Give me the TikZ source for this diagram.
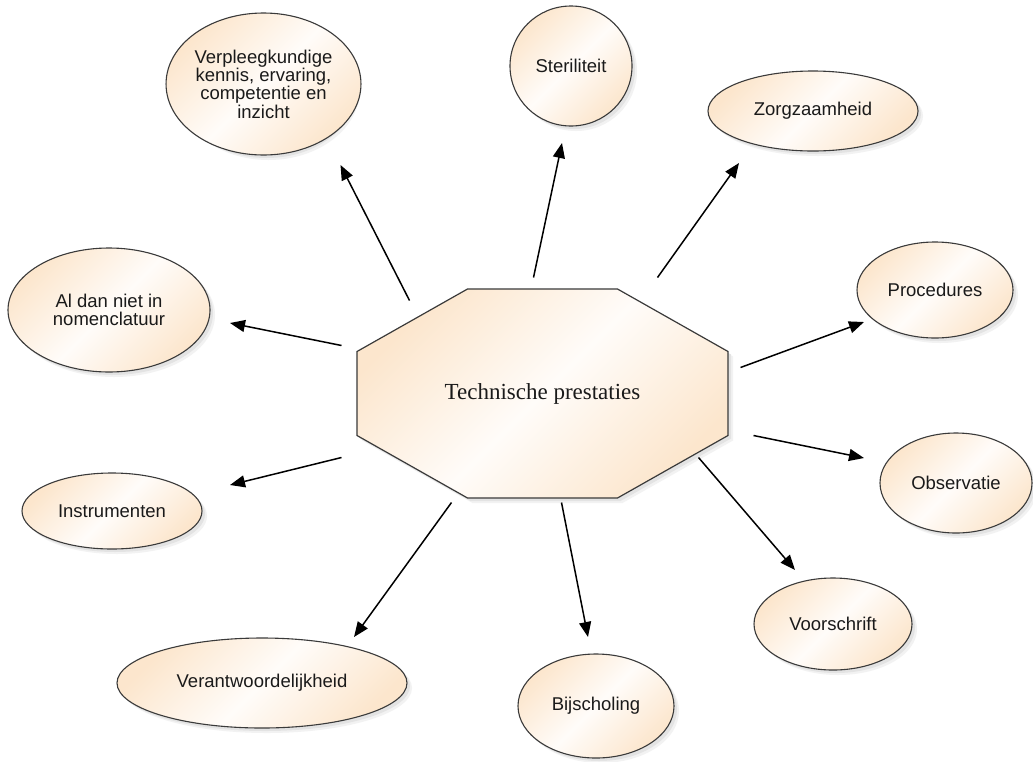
\documentclass[tikz,border=0pt]{standalone}
\usepackage{fontspec}
\setmainfont{Liberation Serif}
\newfontfamily\labelfont{Liberation Sans}
\usetikzlibrary{shapes.geometric,arrows.meta}

\definecolor{peach}{HTML}{FCE6CD}
\definecolor{cream}{HTML}{FFFCF9}
\definecolor{edgegray}{HTML}{3A3A3A}
\definecolor{inkgray}{HTML}{1A1A1A}

\tikzset{
  shadowfar/.style={fill=black!5},
  shadownear/.style={fill=black!11},
  % diagonal peach-cream-peach gradient, clipped to the shape
  peachfill/.style={fill=cream, path picture={
      \shade[top color=peach, bottom color=peach, middle color=cream,
             shading angle=45]
        (path picture bounding box.south west)
        rectangle (path picture bounding box.north east);}},
  topic/.style={ellipse, draw=edgegray, line width=1.1pt, inner sep=0pt,
      align=center, text=inkgray, peachfill,
      font=\labelfont\fontsize{18.5}{18.3}\selectfont},
  blob/.style={ellipse, inner sep=0pt},
  hubbox/.style={rectangle, inner sep=0pt, minimum width=371pt,
      minimum height=209pt, text=inkgray, font=\fontsize{23}{23}\selectfont},
  hubshape/.style={draw=edgegray, line width=1.2pt, peachfill},
  link/.style={-{Triangle[length=15pt,width=12pt]}, line width=1.5pt, black},
}

% an ellipse topic with its soft shadow: name, x, y, width, height, text
\newcommand\topicnode[6]{%
  \node[blob, shadowfar, minimum width=#4, minimum height=#5] at (#2+5,#3+5) {};
  \node[blob, shadownear, minimum width=#4, minimum height=#5] at (#2+3,#3+3) {};
  \node[topic, minimum width=#4, minimum height=#5] (#1) at (#2,#3) {#6};}

\begin{document}
\begin{tikzpicture}[x=1pt, y=-1pt]
  \fill[white] (0,0) rectangle (1033,761);
  \useasboundingbox (0,0) rectangle (1033,761);

  % central octagon with its shadow
  \begin{scope}[shift={(542.5,393.5)}]
    \foreach \d/\s in {5/shadowfar,3/shadownear,0/hubshape}
      \path[\s, xshift=\d pt, yshift=-\d pt]
        (-75,-104.5) -- (75,-104.5) -- (185.5,-42) -- (185.5,42)
        -- (75,104.5) -- (-75,104.5) -- (-185.5,42) -- (-185.5,-42) -- cycle;
    \node[hubbox] (hub) at (0,0) {Technische prestaties};
  \end{scope}

  % surrounding topics
  \topicnode{kennis}{263.5}{84}{183pt}{142pt}
    {Verpleegkundige\\kennis, ervaring,\\competentie en\\inzicht}
  \topicnode{ster}{571}{66}{122pt}{120pt}{Steriliteit}
  \topicnode{zorg}{813}{111}{210pt}{80pt}{Zorgzaamheid}
  \topicnode{proc}{935}{290}{156pt}{96pt}{Procedures}
  \topicnode{obs}{956}{483}{152pt}{100pt}{Observatie}
  \topicnode{voor}{833}{624}{158pt}{92pt}{Voorschrift}
  \topicnode{bijs}{596}{706}{156pt}{104pt}{Bijscholing}
  \topicnode{verant}{262}{683}{290pt}{90pt}{Verantwoordelijkheid}
  \topicnode{instr}{112}{511}{180pt}{76pt}{Instrumenten}
  \topicnode{nomen}{109}{310}{202pt}{124pt}{Al dan niet in\\nomenclatuur}

  % connectors
  \draw[link] ([shift={(-133,-93)}]hub.center) -- ([shift={(77,81)}]kennis.center);
  \draw[link] ([shift={(-9,-116)}]hub.center) -- ([shift={(-9,77)}]ster.center);
  \draw[link] ([shift={(115,-116)}]hub.center) -- ([shift={(-74,52)}]zorg.center);
  \draw[link] ([shift={(198,-26)}]hub.center) -- ([shift={(-71,32)}]proc.center);
  \draw[link] ([shift={(211,42)}]hub.center) -- ([shift={(-92,-25)}]obs.center);
  \draw[link] ([shift={(156,64)}]hub.center) -- ([shift={(-38,-54)}]voor.center);
  \draw[link] ([shift={(19,109)}]hub.center) -- ([shift={(-8,-69)}]bijs.center);
  \draw[link] ([shift={(-91,109)}]hub.center) -- ([shift={(92,-46)}]verant.center);
  \draw[link] ([shift={(-201,64)}]hub.center) -- ([shift={(118,-26)}]instr.center);
  \draw[link] ([shift={(-201,-48)}]hub.center) -- ([shift={(121,13)}]nomen.center);
\end{tikzpicture}
\end{document}
